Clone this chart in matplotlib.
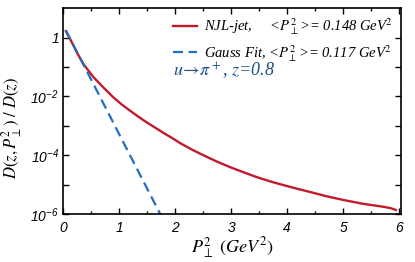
import numpy as np
import matplotlib
matplotlib.use('Agg')
import matplotlib.pyplot as plt
from matplotlib.ticker import FixedLocator, FuncFormatter

# tick labels in oblique sans; the serif texts switch to stix below
plt.rcParams['mathtext.fontset'] = 'custom'
plt.rcParams['mathtext.rm'] = 'Liberation Sans:italic'
plt.rcParams['mathtext.it'] = 'Liberation Sans:italic'
plt.rcParams['mathtext.bf'] = 'Liberation Sans:italic'

# NJL-jet curve (P_perp^2 in GeV^2, log10 of D(z,P^2)/D(z))
njl_x = [0.05, 0.15, 0.25, 0.36, 0.45, 0.54, 0.7, 0.89, 1.05, 1.19, 1.35, 1.49, 1.65, 1.79,
         1.95, 2.1, 2.28, 2.46, 2.75, 3.0, 3.25, 3.48, 3.75, 4.0, 4.2, 4.39, 4.69, 5.0,
         5.35, 5.71, 5.85, 5.94]
njl_log = [0.22, -0.14, -0.52, -0.89, -1.12, -1.34, -1.66, -2.02, -2.28, -2.48, -2.7, -2.88, -3.07, -3.24,
           -3.42, -3.6, -3.79, -3.96, -4.22, -4.42, -4.6, -4.76, -4.92, -5.05, -5.15, -5.24, -5.39, -5.52,
           -5.65, -5.75, -5.8, -5.86]

# Gauss fit: straight line on the log scale, two end points
gauss_x = [0.05, 1.76]
gauss_y = [1.75, 8.0e-7]

njl_label = 'NJL-jet,     <$P_\\perp^2$>= 0.148 GeV$^2$'
gauss_label = 'Gauss Fit, <$P_\\perp^2$>= 0.117 GeV$^2$'

fig = plt.figure(figsize=(4.15, 2.62), dpi=100)
ax = fig.add_axes([0.152, 0.183, 0.814, 0.786])

ax.plot(njl_x, 10.0 ** np.array(njl_log), color='#c01a2c', linewidth=1.7, label=njl_label)
ax.plot(gauss_x, gauss_y, color='#1f6fc2', linewidth=1.6, dashes=(4.5, 2.5), label=gauss_label)

ax.set_yscale('log')
ax.set_xlim(0, 6.03)
ax.set_ylim(1e-6, 10)

ax.yaxis.set_major_locator(FixedLocator([1e-6, 1e-5, 1e-4, 1e-3, 1e-2, 1e-1, 1]))
ax.yaxis.set_minor_locator(FixedLocator([]))

def ylab(v, pos):
    e = int(round(np.log10(v)))
    if e == 0:
        return '1'
    if e % 2:
        return ''
    return '$10^{%d}$' % e

ax.yaxis.set_major_formatter(FuncFormatter(ylab))
ax.set_xticks([0, 1, 2, 3, 4, 5, 6])
ax.set_xticks([0.5, 1.5, 2.5, 3.5, 4.5, 5.5], minor=True)
ax.set_xticklabels([str(i) for i in range(7)])

for lab in ax.get_xticklabels() + ax.get_yticklabels():
    lab.set_fontfamily('Liberation Sans')
    lab.set_fontstyle('italic')
    lab.set_fontsize(10)

ax.tick_params(which='both', direction='in', top=True, right=True, width=1.0)
ax.tick_params(which='major', length=4, pad=3)
ax.tick_params(axis='x', which='major', pad=5)
ax.tick_params(which='minor', length=2.5)
for s in ax.spines.values():
    s.set_linewidth(1.2)

xl = ax.set_xlabel('$P_\\perp^2\\ (GeV^2)$', fontsize=13, labelpad=0)
yl = ax.set_ylabel('$D(z,P_\\perp^2)\\ /\\ D(z)$', fontsize=12)
xl.set_math_fontfamily('stix')
yl.set_math_fontfamily('stix')
ax.yaxis.set_label_coords(-0.115, 0.42)

leg = ax.legend(loc='upper right', frameon=False, handlelength=1.65, handletextpad=0.5,
                borderaxespad=0.25, labelspacing=0.4, borderpad=0.3,
                prop={'family': 'Liberation Serif', 'style': 'italic', 'size': 10.5})
for t in leg.get_texts():
    t.set_math_fontfamily('stix')

ann = ax.text(0.325, 0.668, '$u\\!\\rightarrow\\!\\pi^+$, $z$=0.8', transform=ax.transAxes,
              color='#1d4f8a', fontsize=13, family='Liberation Serif', style='italic')
ann.set_math_fontfamily('stix')

fig.savefig('out.png', dpi=100)
